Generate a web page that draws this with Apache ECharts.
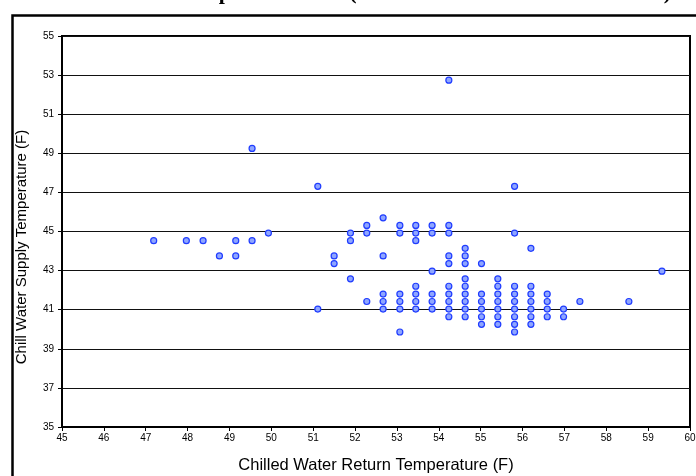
<!DOCTYPE html>
<html>
<head>
<meta charset="utf-8">
<script src="https://cdn.jsdelivr.net/npm/echarts@6/dist/echarts.min.js"></script>
<style>html,body{margin:0;padding:0;background:#fff}#c{width:696px;height:476px}</style>
</head>
<body>
<div id="c"></div>
<script>
// Chilled water return temperature (F) for each point
var returnTemps = [
  47.19, 47.97, 48.37, 48.76,
  49.15, 49.15,
  49.54, 49.54,
  49.93,
  51.11, 51.11,
  51.50, 51.50,
  51.89, 51.89, 51.89,
  52.28, 52.28, 52.28,
  52.67, 52.67, 52.67, 52.67, 52.67,
  53.07, 53.07, 53.07, 53.07, 53.07, 53.07,
  53.45, 53.45, 53.45, 53.45, 53.45, 53.45, 53.45,
  53.84, 53.84, 53.84, 53.84, 53.84, 53.84,
  54.24, 54.24, 54.24, 54.24, 54.24, 54.24, 54.24, 54.24, 54.24, 54.24,
  54.63, 54.63, 54.63, 54.63, 54.63, 54.63, 54.63, 54.63, 54.63,
  55.02, 55.02, 55.02, 55.02, 55.02, 55.02,
  55.41, 55.41, 55.41, 55.41, 55.41, 55.41, 55.41,
  55.81, 55.81, 55.81, 55.81, 55.81, 55.81, 55.81, 55.81, 55.81,
  56.20, 56.20, 56.20, 56.20, 56.20, 56.20, 56.20,
  56.59, 56.59, 56.59, 56.59,
  56.98, 56.98,
  57.37, 58.54, 59.33
];
// Chill water supply temperature (F) for each point
var supplyTemps = [
  44.53, 44.53, 44.53, 43.75,
  44.53, 43.75,
  49.25, 44.53,
  44.92,
  47.31, 41.03,
  43.75, 43.36,
  44.92, 44.53, 42.58,
  45.31, 44.92, 41.42,
  45.70, 43.75, 41.80, 41.42, 41.03,
  45.31, 44.92, 41.80, 41.42, 41.03, 39.86,
  45.31, 44.92, 44.53, 42.20, 41.80, 41.42, 41.03,
  45.31, 44.92, 42.97, 41.80, 41.42, 41.03,
  52.74, 45.31, 44.92, 43.75, 43.36, 42.20, 41.80, 41.42, 41.03, 40.64,
  44.14, 43.75, 43.36, 42.58, 42.20, 41.80, 41.42, 41.03, 40.64,
  43.36, 41.80, 41.42, 41.03, 40.64, 40.25,
  42.58, 42.20, 41.80, 41.42, 41.03, 40.64, 40.25,
  47.31, 44.92, 42.20, 41.80, 41.42, 41.03, 40.64, 40.25, 39.86,
  44.14, 42.20, 41.80, 41.42, 41.03, 40.64, 40.25,
  41.80, 41.42, 41.03, 40.64,
  41.03, 40.64,
  41.42, 41.42, 42.97
];
var chartTitle = "Chilled Water Temperature Plot (Measured Data from All Months)";
var xName = "Chilled Water Return Temperature (F)";
var yName = "Chill Water Supply Temperature (F)";

var pts = returnTemps.map(function (x, i) { return [x, supplyTemps[i]]; });

var chart = echarts.init(document.getElementById('c'), null, {renderer: 'canvas'});
chart.setOption({
  animation: false,
  backgroundColor: '#fff',
  title: {
    text: chartTitle,
    left: 35,
    top: -23,
    textStyle: {fontFamily: 'Liberation Serif', fontWeight: 'bold', fontSize: 22, color: '#000'}
  },
  graphic: [{
    type: 'rect', left: 10, top: 13, z: 100,
    shape: {x: 0, y: 0, width: 720, height: 500},
    style: {fill: 'none', stroke: '#000', lineWidth: 2.5}
  }, {
    type: 'text', x: 22, y: 247, rotation: Math.PI / 2, z: 100,
    style: {text: yName, fontFamily: 'Liberation Sans', fontSize: 15, fill: '#000', align: 'center', verticalAlign: 'middle'}
  }],
  grid: {left: 62, right: 6, top: 36, bottom: 49, show: true, borderColor: '#000', borderWidth: 2, backgroundColor: '#fff', outerBoundsMode: 'none', containLabel: false},
  xAxis: {
    type: 'value', min: 45, max: 60, interval: 1,
    name: xName, nameLocation: 'middle', nameGap: 30,
    nameTextStyle: {fontFamily: 'Liberation Sans', fontSize: 16.5, color: '#000'},
    axisLine: {show: true, lineStyle: {color: '#000', width: 2}},
    axisTick: {show: true, inside: false, length: 4, lineStyle: {color: '#000'}},
    axisLabel: {fontFamily: 'Liberation Sans', fontSize: 10, color: '#000', margin: 6},
    splitLine: {show: false}
  },
  yAxis: {
    type: 'value', min: 35, max: 55, interval: 2,
    axisLine: {show: true, lineStyle: {color: '#000', width: 2}},
    axisTick: {show: true, inside: false, length: 4, lineStyle: {color: '#000'}},
    axisLabel: {fontFamily: 'Liberation Sans', fontSize: 10, color: '#000', margin: 8},
    splitLine: {show: true, lineStyle: {color: '#111', width: 1}}
  },
  series: [{
    type: 'scatter',
    data: pts,
    symbol: 'circle',
    symbolSize: 6,
    itemStyle: {color: '#8fa6ff', borderColor: '#1f3cff', borderWidth: 1.2, opacity: 1}
  }]
});
</script>
</body>
</html>
